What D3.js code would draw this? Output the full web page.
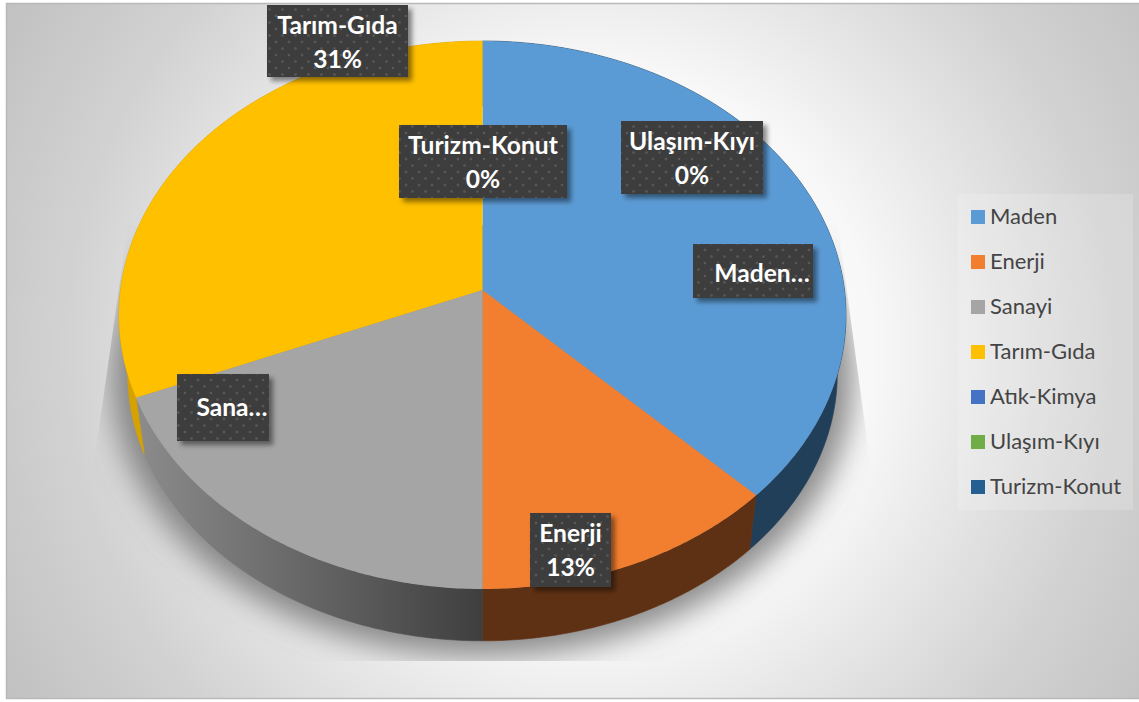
<!DOCTYPE html>
<html>
<head>
<meta charset="utf-8">
<style>
	html, body { margin: 0; padding: 0; background: #fff; }
	svg { display: block; }
	text { font-family: Lato, "Open Sans", sans-serif; }
</style>
<script src="https://cdn.jsdelivr.net/npm/d3@7"></script>
</head>
<body>
<svg id="chart"></svg>
<script>
	// slice counts (6/16, 2/16, 3/16, 5/16, the rest zero)
	var categories = ["Maden", "Enerji", "Sanayi", "Tarım-Gıda", "Atık-Kimya", "Ulaşım-Kıyı", "Turizm-Konut"]
	var values = [6, 2, 3, 5, 0, 0, 0]
	var topColors = ["#5b9bd5", "#f27e30", "#a5a5a5", "#ffc000", "#4472c4", "#70ad47", "#255e91"]
	var wallColors = ["#223f59", "#5f3114", "url(#wallGrey)", "#d6a200", "#2a4478", "#43682b", "#163855"]

	var dimensions = { width: 1139, height: 702 }
	var total = d3.sum(values)

	var svg = d3.select("#chart")
		.attr("width", dimensions.width)
		.attr("height", dimensions.height)
	var defs = svg.append("defs")

	var bg = defs.append("radialGradient").attr("id", "bg")
		.attr("gradientUnits", "userSpaceOnUse")
		.attr("cx", 590).attr("cy", 350).attr("r", 670)
	bg.append("stop").attr("offset", "0").attr("stop-color", "#ffffff")
	bg.append("stop").attr("offset", "0.42").attr("stop-color", "#f8f8f8")
	bg.append("stop").attr("offset", "0.55").attr("stop-color", "#eaeaea")
	bg.append("stop").attr("offset", "0.78").attr("stop-color", "#d2d2d2")
	bg.append("stop").attr("offset", "1").attr("stop-color", "#c2c2c2")

	var wallGrey = defs.append("linearGradient").attr("id", "wallGrey")
		.attr("gradientUnits", "userSpaceOnUse")
		.attr("x1", 135).attr("x2", 482).attr("y1", 0).attr("y2", 0)
	wallGrey.append("stop").attr("offset", "0").attr("stop-color", "#8c8c8c")
	wallGrey.append("stop").attr("offset", "1").attr("stop-color", "#3f3f3f")

	defs.append("filter").attr("id", "blurShadow")
		.attr("x", "-20%").attr("y", "-20%").attr("width", "140%").attr("height", "140%")
		.append("feGaussianBlur").attr("stdDeviation", 15)

	var boxShadow = defs.append("filter").attr("id", "boxShadow")
		.attr("x", "-20%").attr("y", "-20%").attr("width", "140%").attr("height", "140%")
	boxShadow.append("feDropShadow")
		.attr("dx", 4).attr("dy", 4).attr("stdDeviation", 2.5)
		.attr("flood-color", "#000").attr("flood-opacity", 0.45)

	var dots = defs.append("pattern").attr("id", "dots")
		.attr("patternUnits", "userSpaceOnUse")
		.attr("width", 13).attr("height", 13)
	dots.append("rect").attr("width", 13).attr("height", 13).attr("fill", "#3e3e3e")
	dots.append("circle").attr("cx", 3).attr("cy", 3).attr("r", 1.3).attr("fill", "#595959")
	dots.append("circle").attr("cx", 9.5).attr("cy", 9.5).attr("r", 1.3).attr("fill", "#595959")

	// background panel
	svg.append("rect")
		.attr("x", 6.5).attr("y", 3.5)
		.attr("width", dimensions.width).attr("height", 695)
		.attr("fill", "url(#bg)")
		.attr("stroke", "#b9b9b9")
		.attr("stroke-width", 1.5)

	// tilted disc: circle to picture through a homography, so the apex sits above the ellipse centre
	var disc = { cx: 482.5, cy: 290, ax: 362, ay: 271.7, k: 0.0912 }
	// side wall edges run to a far vanishing point below the disc
	var vanish = { x: 482.5, y: 2750, t: 0.024 }

	function project(angle) {
		var u = Math.sin(angle), v = Math.cos(angle)
		var w = 1 + disc.k * v
		return [disc.cx + disc.ax * u / w, disc.cy - disc.ay * v / w]
	}
	function drop(p) {
		return [p[0] + (vanish.x - p[0]) * vanish.t, p[1] + (vanish.y - p[1]) * vanish.t]
	}
	function rimPoints(a0, a1) {
		var n = Math.max(2, Math.ceil((a1 - a0) / 0.01))
		return d3.range(n + 1).map(i => project(a0 + (a1 - a0) * i / n))
	}

	var pie = d3.pie().sort(null).value(d => d)
	var arcs = pie(values).map((d, i) => ({ start: d.startAngle, end: d.endAngle, i: i }))
		.filter(d => d.end > d.start)

	var line = d3.line()
	var colorTop = d3.scaleOrdinal().domain(categories).range(topColors)
	var colorWall = d3.scaleOrdinal().domain(categories).range(wallColors)

	// floor shadow, cut off by a trapezoid like the reference
	defs.append("clipPath").attr("id", "shadowClip")
		.append("path")
		.attr("d", "M128,225L93,470L150,661L810,661L871,470L838,225Z")

	var fullRim = rimPoints(0, Math.PI * 2)
	var shadowScale = 1.045
	svg.append("g").attr("clip-path", "url(#shadowClip)")
		.append("path")
		.attr("d", line(fullRim.map(drop).map(p => [
			disc.cx + (p[0] - disc.cx) * shadowScale,
			disc.cy + (p[1] - disc.cy) * shadowScale
		])) + "Z")
		.attr("fill", "#6e6e6e")
		.attr("fill-opacity", 0.8)
		.attr("filter", "url(#blurShadow)")

	// walls first, top faces over them
	svg.append("g").selectAll("path")
		.data(arcs)
		.enter()
		.append("path")
		.attr("d", d => {
			var rim = rimPoints(d.start, d.end)
			return line(rim.concat(rim.map(drop).reverse())) + "Z"
		})
		.attr("fill", d => colorWall(categories[d.i]))
		.attr("stroke", d => colorWall(categories[d.i]))
		.attr("stroke-width", 0.6)

	svg.append("g").selectAll("path")
		.data(arcs)
		.enter()
		.append("path")
		.attr("d", d => line([[disc.cx, disc.cy]].concat(rimPoints(d.start, d.end))) + "Z")
		.attr("fill", d => colorTop(categories[d.i]))

	// data labels, some cut short as in the picture
	function pct(name) {
		return Math.round(values[categories.indexOf(name)] / total * 100) + "%"
	}
	var labels = [
		{ lines: ["Tarım-Gıda", pct("Tarım-Gıda")], x: 267, y: 5, w: 141, h: 72 },
		{ lines: ["Turizm-Konut", pct("Turizm-Konut")], x: 399, y: 125, w: 168, h: 73 },
		{ lines: ["Ulaşım-Kıyı", pct("Ulaşım-Kıyı")], x: 621, y: 121, w: 142, h: 73 },
		{ lines: ["Maden…"], x: 693, y: 244, w: 120, h: 54, tx: 762, ty: 282 },
		{ lines: ["Sana…"], x: 177, y: 374, w: 92, h: 67, tx: 232, ty: 416 },
		{ lines: ["Enerji", pct("Enerji")], x: 530, y: 513, w: 81, h: 74 }
	]
	var labelG = svg.append("g").selectAll("g")
		.data(labels)
		.enter()
		.append("g")
	labelG.append("rect")
		.attr("x", d => d.x).attr("y", d => d.y)
		.attr("width", d => d.w).attr("height", d => d.h)
		.attr("fill", "url(#dots)")
		.attr("filter", "url(#boxShadow)")
	labelG.each(function (d) {
		var g = d3.select(this)
		d.lines.forEach((t, i) => {
			g.append("text")
				.text(t)
				.attr("x", d.tx || d.x + d.w / 2)
				.attr("y", d.ty || d.y + 29 + i * 34)
				.attr("text-anchor", "middle")
				.attr("fill", "#fff")
				.style("font-weight", 700)
				.style("font-size", "24.6px")
		})
	})

	// legend
	var legendY = d3.scalePoint().domain(categories).range([217, 487])
	svg.append("rect")
		.attr("x", 958).attr("y", 194)
		.attr("width", 175).attr("height", 316)
		.attr("fill", "#fff").attr("fill-opacity", 0.17)
	var legend = svg.append("g").selectAll("g")
		.data(categories)
		.enter()
		.append("g")
		.attr("transform", d => "translate(971," + legendY(d) + ")")
	legend.append("rect")
		.attr("y", -7).attr("width", 14).attr("height", 14)
		.attr("fill", d => colorTop(d))
	legend.append("text")
		.text(d => d)
		.attr("x", 19).attr("y", 7)
		.attr("fill", "#444")
		.style("font-size", "22px")
</script>
</body>
</html>
